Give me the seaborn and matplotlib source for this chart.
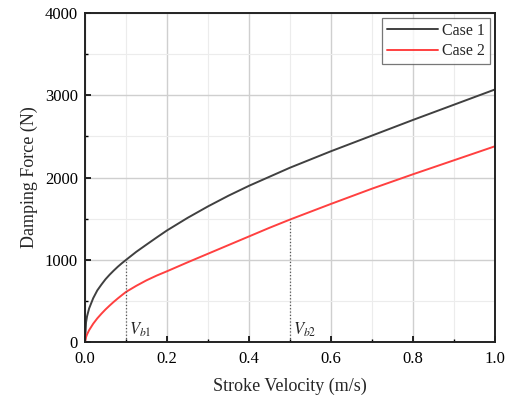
import numpy as np
import pandas as pd
import seaborn as sns
import matplotlib.pyplot as plt
from matplotlib.ticker import MultipleLocator

# values
velocity = [0, 0.0025, 0.005, 0.01, 0.02, 0.03, 0.04, 0.05, 0.06, 0.07, 0.08, 0.09,
            0.1, 0.125, 0.15, 0.175, 0.2, 0.25, 0.3, 0.35, 0.4, 0.45, 0.5, 0.55,
            0.6, 0.7, 0.8, 0.9, 1.0]
case1 = [0, 240, 315, 410, 535, 630, 700, 765, 820, 870, 917, 960,
         1000, 1098, 1186, 1273, 1358, 1510, 1650, 1780, 1900, 2010, 2120, 2220,
         2320, 2510, 2700, 2885, 3070]
case2 = [0, 62, 95, 146, 225, 290, 346, 398, 445, 490, 532, 572,
         611, 685, 752, 810, 862, 970, 1075, 1180, 1285, 1390, 1490, 1585,
         1680, 1865, 2040, 2210, 2380]
breaks = [0.1, 0.5]
break_force = [1000, 1500]
break_labels = ['$V_{b1}$', '$V_{b2}$']

df = pd.DataFrame({
    'v': velocity * 2,
    'F': case1 + case2,
    'case': ['Case 1'] * len(velocity) + ['Case 2'] * len(velocity),
})

sns.set_style('white')
plt.rcParams['font.family'] = ['Liberation Serif', 'DejaVu Serif']
plt.rcParams['mathtext.fontset'] = 'stix'

fig = plt.figure(figsize=(5.06, 4.05), dpi=100)
ax = fig.add_axes([0.168, 0.155, 0.810, 0.813])

sns.lineplot(data=df, x='v', y='F', hue='case', palette=['#404040', '#ff4040'],
             linewidth=1.4, ax=ax)

for b, f, lab in zip(breaks, break_force, break_labels):
    ax.plot([b, b], [0, f], color='#555555', lw=0.9, ls=':')
    ax.text(b + 0.008, 40, lab, fontsize=12, style='italic', ha='left', va='bottom')

ax.set_xlim(0, 1.0)
ax.set_ylim(0, 4000)
ax.xaxis.set_major_locator(MultipleLocator(0.2))
ax.xaxis.set_minor_locator(MultipleLocator(0.1))
ax.yaxis.set_major_locator(MultipleLocator(1000))
ax.yaxis.set_minor_locator(MultipleLocator(500))
ax.xaxis.set_major_formatter(plt.FuncFormatter(lambda x, p: f'{x:.1f}'))
ax.grid(True, which='major', color='#cfcfcf', lw=1.0)
ax.grid(True, which='minor', color='#ececec', lw=0.8)
ax.set_axisbelow(True)
ax.tick_params(which='both', direction='in', bottom=True, left=True,
               top=False, right=False, labelsize=12, colors='black')
ax.tick_params(which='major', length=4, width=1.2)
ax.tick_params(which='minor', length=2.5, width=1.0)
ax.tick_params(axis='x', which='major', pad=6)
ax.tick_params(axis='y', which='major', pad=5)
for s in ax.spines.values():
    s.set_color('#222222')
    s.set_linewidth(1.4)

ax.set_xlabel('Stroke Velocity (m/s)', fontsize=13, labelpad=8)
ax.set_ylabel('Damping Force (N)', fontsize=13, labelpad=5)

leg = ax.legend(title=None, loc='upper right', fontsize=11.5, frameon=True,
                fancybox=False, edgecolor='#555555', borderaxespad=0.3,
                handlelength=3.2, handletextpad=0.3, borderpad=0.3,
                labelspacing=0.3)
leg.get_frame().set_linewidth(0.9)

fig.savefig('out.png', dpi=100)
